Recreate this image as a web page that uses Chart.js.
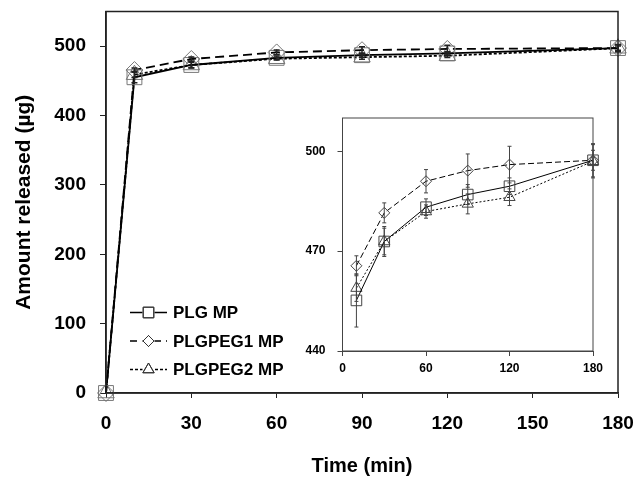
<!DOCTYPE html>
<html>
<head>
<meta charset="utf-8">
<script src="https://cdn.jsdelivr.net/npm/chart.js@4/dist/chart.umd.min.js"></script>
<style>
  html, body { margin: 0; padding: 0; background: #fff; }
  #wrap { position: relative; width: 635px; height: 478px; }
  #main { position: absolute; left: 0; top: 0; }
  #inset { position: absolute; left: 290px; top: 100px; }
</style>
</head>
<body>
<div id="wrap">
  <canvas id="main" width="635" height="478"></canvas>
  <canvas id="inset" width="320" height="290"></canvas>
</div>
<script>
// release times (min)
const times = [0, 10, 30, 60, 90, 120, 180];

// amount released (ug)
const plg     = [0, 455.2, 472.9, 483.2, 487.0, 489.5, 497.3];
const plgpeg1 = [0, 465.6, 481.5, 491.0, 494.2, 496.0, 497.3];
const plgpeg2 = [0, 458.9, 472.9, 481.9, 484.2, 486.2, 497.0];

// error bars (+/-)
const plgErr     = [0, 8.0, 4.0, 2.5, 3.0, 2.5, 5.0];
const plgpeg1Err = [0, 3.0, 3.0, 3.5, 5.0, 5.5, 3.0];
const plgpeg2Err = [0, 4.0, 4.5, 2.0, 3.0, 2.5, 5.0];

const labels = ["PLG MP", "PLGPEG1 MP", "PLGPEG2 MP"];

// tick labels
const xTicksMain = [0, 30, 60, 90, 120, 150, 180];
const yTicksMain = [0, 100, 200, 300, 400, 500];
const xTicksInset = [0, 60, 120, 180];
const yTicksInset = [440, 470, 500];

const FONT = "'Liberation Sans', Arial, sans-serif";
const series = [plg, plgpeg1, plgpeg2];
const errs = [plgErr, plgpeg1Err, plgpeg2Err];
const styles = ["rect", "rectRot", "triangle"];

function makeDatasets(cfg) {
  return series.map((vals, i) => ({
    label: labels[i],
    data: times.map((t, j) => ({ x: t, y: vals[j] })).slice(cfg.from),
    errors: errs[i].slice(cfg.from),
    borderColor: "#000",
    borderWidth: cfg.lw,
    borderDash: cfg.dash[i],
    pointStyle: styles[i],
    pointRadius: cfg.radius[i],
    pointBorderColor: cfg.pcolor,
    pointBackgroundColor: "rgba(0,0,0,0)",
    pointBorderWidth: 1,
    tension: 0,
    clip: false
  }));
}

// error bars + frame box
const errorBars = {
  id: "errorBars",
  afterDatasetsDraw(chart, args, opts) {
    const { ctx, scales: { x, y } } = chart;
    ctx.save();
    ctx.strokeStyle = opts.color;
    ctx.lineWidth = opts.width;
    ctx.setLineDash([]);
    chart.data.datasets.forEach(ds => {
      ds.data.forEach((p, j) => {
        const e = ds.errors[j];
        if (!e) return;
        const px = x.getPixelForValue(p.x);
        const t = y.getPixelForValue(p.y + e);
        const b = y.getPixelForValue(p.y - e);
        ctx.beginPath();
        ctx.moveTo(px, t); ctx.lineTo(px, b);
        ctx.moveTo(px - opts.cap, t); ctx.lineTo(px + opts.cap, t);
        ctx.moveTo(px - opts.cap, b); ctx.lineTo(px + opts.cap, b);
        ctx.stroke();
      });
    });
    const a = chart.chartArea;
    ctx.strokeStyle = opts.frame;
    ctx.lineWidth = opts.frameWidth;
    ctx.strokeRect(a.left, a.top, a.right - a.left, a.bottom - a.top);
    ctx.restore();
  }
};

// legend with line sample + marker
const lineLegend = {
  id: "lineLegend",
  afterDraw(chart, args, opts) {
    if (!opts.show) return;
    const ctx = chart.ctx;
    ctx.save();
    chart.data.datasets.forEach((ds, i) => {
      const cy = opts.rows[i];
      ctx.strokeStyle = "#000";
      ctx.lineWidth = 1.3;
      ctx.setLineDash(opts.dash[i]);
      ctx.beginPath();
      ctx.moveTo(opts.x0, cy); ctx.lineTo(opts.x1, cy);
      ctx.stroke();
      ctx.setLineDash([]);
      const mx = (opts.x0 + opts.x1) / 2;
      ctx.fillStyle = "#fff";
      ctx.fillRect(mx - 6, cy - 6, 12, 12);
      ctx.strokeStyle = "#333";
      ctx.lineWidth = 1;
      Chart.helpers.drawPoint(ctx, { pointStyle: ds.pointStyle, radius: opts.radius[i], borderWidth: 1, rotation: 0 }, mx, cy);
      ctx.stroke();
      ctx.fillStyle = "#000";
      ctx.font = "bold 17px " + FONT;
      ctx.textAlign = "left";
      ctx.textBaseline = "middle";
      ctx.fillText(ds.label, opts.tx, cy + 1);
    });
    ctx.restore();
  }
};

function fixedTicks(list) {
  return scale => { scale.ticks = list.map(v => ({ value: v })); };
}

// fix scale box size and drop the automatic label overflow padding
function fitBox(prop, size) {
  return s => {
    s[prop] = size;
    s.paddingLeft = s.paddingRight = s.paddingTop = s.paddingBottom = 0;
  };
}

new Chart(document.getElementById("main"), {
  type: "line",
  data: {
    datasets: makeDatasets({
      from: 0,
      lw: 1.8,
      dash: [[], [9, 5], [3, 2]],
      radius: [10.5, 8.5, 9.5],
      pcolor: "#777"
    })
  },
  options: {
    responsive: false,
    animation: false,
    layout: { padding: { top: 11, right: 17, left: 0, bottom: 0 } },
    plugins: {
      legend: { display: false },
      tooltip: { enabled: false },
      errorBars: { color: "#222", width: 1.5, cap: 3, frame: "#222", frameWidth: 1.5 },
      lineLegend: {
        show: true,
        rows: [312.5, 341, 369.5],
        x0: 130, x1: 167, tx: 173,
        dash: [[], [7, 5], [3, 2]],
        radius: [7.5, 5.5, 6.5]
      }
    },
    scales: {
      x: {
        type: "linear",
        min: 0, max: 180,
        afterFit: fitBox("height", 85),
        afterBuildTicks: fixedTicks(xTicksMain),
        grid: { display: true, drawOnChartArea: false, drawTicks: true, tickLength: 5, color: "#222" },
        border: { display: true, color: "#222", width: 1.5 },
        ticks: { color: "#000", padding: 14, maxRotation: 0, font: { family: FONT, size: 19, weight: "bold" } },
        title: { display: true, text: "Time (min)", color: "#000", padding: { top: 0, bottom: 0 }, font: { family: FONT, size: 20, weight: "bold" } }
      },
      y: {
        type: "linear",
        min: 0, max: 550,
        afterFit: fitBox("width", 106),
        afterBuildTicks: fixedTicks(yTicksMain),
        grid: { display: true, drawOnChartArea: false, drawTicks: true, tickLength: 6, color: "#222" },
        border: { display: true, color: "#222", width: 1.5 },
        ticks: { color: "#000", padding: 14, font: { family: FONT, size: 19, weight: "bold" } },
        title: { display: true, text: "Amount released (\u00b5g)", color: "#000", padding: { top: 12, bottom: 0 }, font: { family: FONT, size: 21, weight: "bold" } }
      }
    }
  },
  plugins: [errorBars, lineLegend]
});

new Chart(document.getElementById("inset"), {
  type: "line",
  data: {
    datasets: makeDatasets({
      from: 1,
      lw: 1,
      dash: [[], [6, 3], [2, 2]],
      radius: [7.5, 5.5, 6.5],
      pcolor: "#444"
    })
  },
  options: {
    responsive: false,
    animation: false,
    layout: { padding: { top: 18, right: 17, left: 0, bottom: 0 } },
    plugins: {
      legend: { display: false },
      tooltip: { enabled: false },
      errorBars: { color: "#444", width: 1, cap: 2, frame: "#444", frameWidth: 1 },
      lineLegend: { show: false }
    },
    scales: {
      x: {
        type: "linear",
        min: 0, max: 180,
        afterFit: fitBox("height", 39),
        afterBuildTicks: fixedTicks(xTicksInset),
        grid: { display: true, drawOnChartArea: false, drawTicks: true, tickLength: 5, color: "#444" },
        border: { display: true, color: "#444", width: 1 },
        ticks: { color: "#000", padding: 5, maxRotation: 0, font: { family: FONT, size: 12, weight: "bold" } }
      },
      y: {
        type: "linear",
        min: 440, max: 510,
        afterFit: fitBox("width", 52.5),
        afterBuildTicks: fixedTicks(yTicksInset),
        grid: { display: true, drawOnChartArea: false, drawTicks: true, tickLength: 5, color: "#444" },
        border: { display: true, color: "#444", width: 1 },
        ticks: { color: "#000", padding: 12, font: { family: FONT, size: 12, weight: "bold" } }
      }
    }
  },
  plugins: [errorBars]
});
</script>
</body>
</html>
